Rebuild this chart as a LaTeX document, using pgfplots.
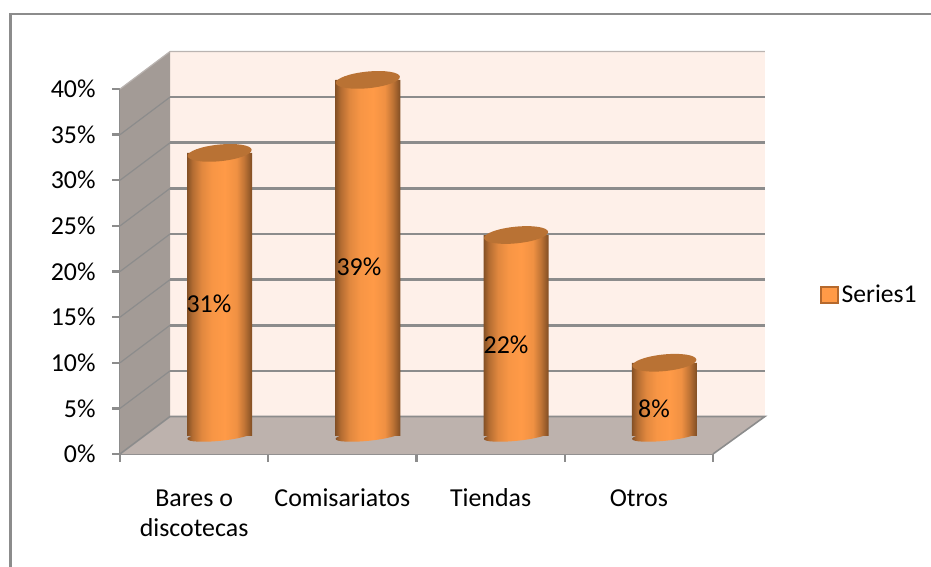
\documentclass[border=0pt]{standalone}
\usepackage{pgfplots}
\usepackage{pgfplotstable}
\usepackage{fontspec}
\pgfplotsset{compat=1.18}
\setmainfont{Carlito}

\definecolor{wallback}{HTML}{FEF0E9}
\definecolor{wallside}{HTML}{A39B96}
\definecolor{wallfloor}{HTML}{BDB2AD}
\definecolor{rule}{HTML}{8C8C8C}
\definecolor{captop}{HTML}{B97234}
\definecolor{keyfill}{HTML}{FF9A47}
\definecolor{keyedge}{HTML}{B5692D}

% body of a cylinder: dark rims and a bright band just right of centre
\pgfdeclarehorizontalshading{cylbody}{100bp}{
  color(0bp)=(black!48!keyfill);
  color(25bp)=(black!48!keyfill);
  color(29bp)=(black!30!keyfill);
  color(36bp)=(black!12!keyfill);
  color(44bp)=(black!3!keyfill);
  color(54bp)=(keyfill);
  color(63bp)=(black!6!keyfill);
  color(69bp)=(black!25!keyfill);
  color(75bp)=(black!50!keyfill);
  color(100bp)=(black!50!keyfill)}

% one unit of the value axis in picture lengths
\pgfmathsetmacro{\valueunit}{273.75/40}

% a cylinder body standing on its data point, as tall as the value it shows
\pgfdeclareplotmark{cylwhole}{%
  \pgfmathsetlengthmacro{\cylheight}{\barvalue*\valueunit}%
  \pgfpathrectangle{\pgfqpoint{-24.4pt}{0pt}}{\pgfqpoint{48.8pt}{\cylheight}}%
  \pgfpathellipse{\pgfpointorigin}{\pgfqpoint{24.2pt}{2.4pt}}{\pgfqpoint{-0.4pt}{3.8pt}}%
  \pgfshadepath{cylbody}{0}\pgfusepath{discard}}
% the tilted cap on top of it
\pgfdeclareplotmark{cylcap}{%
  \pgfpathellipse{\pgfpointorigin}{\pgfqpoint{24pt}{2.4pt}}{\pgfqpoint{-0.7pt}{6.2pt}}%
  \pgfusepathqfill}

% category centres sit half way into the depth of the floor
\pgfplotstableread{
x v lx
0.672 31 0.600
1.672 39 1.612
2.672 22 2.604
3.672 8 3.602
}\shares

\begin{document}
\begin{tikzpicture}[x=0.75pt,y=-0.75pt]
\useasboundingbox (0,0) rectangle (931,567);
\begin{axis}[
  at={(90pt,-340.5pt)}, anchor=south west,
  scale only axis, width=444.75pt, height=273.75pt,
  xmin=0, xmax=4, ymin=0, ymax=40,
  clip=false,
  axis x line*=bottom, axis y line*=left,
  axis line style={draw=rule, line width=1.8pt, -},
  tick style={draw=rule, line width=1.8pt},
  tick align=outside, major tick length=5.8pt,
  xtick={0,1,2,3,4},
  xticklabels={{Bares o\\discotecas},Comisariatos,Tiendas,Otros},
  x tick label as interval,
  typeset ticklabels with strut,
  x tick label style={align=center, anchor=north, yshift=-13.8pt,
    font=\fontsize{19.4}{23}\selectfont},
  ytick={0,5,...,40},
  yticklabel={\pgfmathprintnumber{\tick}\%},
  y tick label style={font=\fontsize{19.4}{23}\selectfont, xshift=-9pt},
  /pgf/number format/assume math mode=true,
  unbounded coords=jump,
  legend style={at={(1.1805,0.4356)}, anchor=west, draw=none, fill=none,
    inner sep=0pt, font=\fontsize{19.2}{23}\selectfont},
  legend cell align=left,
  legend image code/.code={
    \draw[fill=keyfill, draw=keyedge, line width=1.5pt] (0pt,-6pt) rectangle (12.5pt,6pt);
  },
]
% back wall, side wall and floor of the box
\addplot[fill=wallback, draw=none, forget plot] coordinates {(0.3373,4.11)(4.35,4.11)(4.35,44.11)(0.3373,44.11)} -- cycle;
\addplot[fill=wallside, draw=none, forget plot] coordinates {(0,0)(0.3373,4.11)(0.3373,44.11)(0,40)} -- cycle;
\addplot[fill=wallfloor, draw=none, forget plot] coordinates {(0,0)(4,0)(4.35,4.11)(0.3373,4.11)} -- cycle;
% floor edge, wall top and the receding gridlines on the side wall
\addplot[rule, line width=1.2pt, forget plot] coordinates {(4,0)(4.35,4.11)(0.3373,4.11)(0,0)};
\addplot[rule!60!wallback, line width=0.9pt, forget plot] coordinates {(0,40)(0.3373,44.11)(4.35,44.11)};
\addplot[rule, line width=0.9pt, forget plot] coordinates {
  (0,5)(0.3373,9.11) (nan,nan) (0,10)(0.3373,14.11) (nan,nan)
  (0,15)(0.3373,19.11) (nan,nan) (0,20)(0.3373,24.11) (nan,nan)
  (0,25)(0.3373,29.11) (nan,nan) (0,30)(0.3373,34.11) (nan,nan)
  (0,35)(0.3373,39.11)};
% horizontal gridlines on the back wall
\addplot[rule, line width=2pt, forget plot] coordinates {
  (0.3373,9.11)(4.35,9.11) (nan,nan) (0.3373,14.11)(4.35,14.11) (nan,nan)
  (0.3373,19.11)(4.35,19.11) (nan,nan) (0.3373,24.11)(4.35,24.11) (nan,nan)
  (0.3373,29.11)(4.35,29.11) (nan,nan) (0.3373,34.11)(4.35,34.11) (nan,nan)
  (0.3373,39.11)(4.35,39.11)};
% cylinder bodies standing on the floor at height 2
\addplot[scatter, only marks, mark=cylwhole, point meta=\thisrow{v},
  visualization depends on={\thisrow{v} \as \barvalue}]
  table[x=x, y expr=2] {\shares};
\addlegendentry{Series1}
% caps
\addplot[only marks, mark=cylcap, mark options={fill=captop, draw=none}, forget plot]
  table[x=x, y expr=\thisrow{v}+2] {\shares};
% value labels
\addplot[only marks, mark=none, forget plot, point meta=\thisrow{v},
  nodes near coords={\pgfmathprintnumber[assume math mode=true]{\pgfplotspointmeta}\%},
  nodes near coords align={center},
  every node near coord/.style={font=\fontsize{19.4}{23}\selectfont, text=black, inner sep=0pt}]
  table[x=lx, y expr=\thisrow{v}/2+1] {\shares};
\end{axis}
% frame of the chart area
\draw[rule, line width=1.4pt] (931,14) -- (10.5,14);
\draw[rule, line width=2pt] (10.5,13.4) -- (10.5,567);
\end{tikzpicture}
\end{document}
